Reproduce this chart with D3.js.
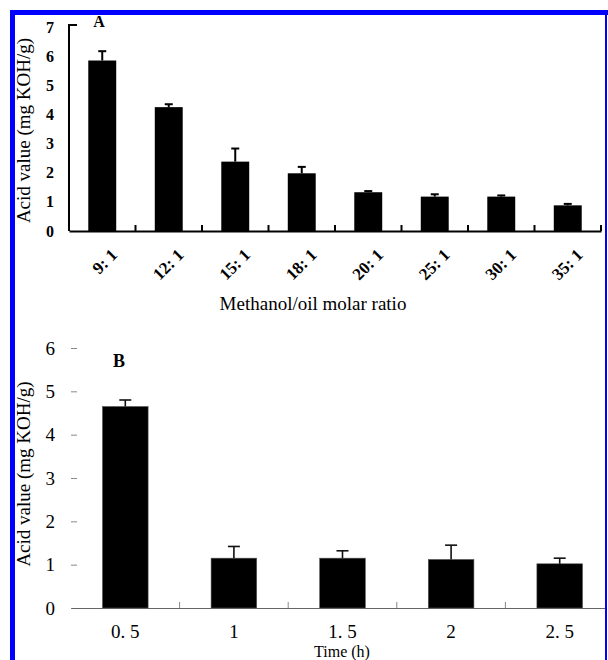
<!DOCTYPE html>
<html lang="en">
<head>
<meta charset="UTF-8">
<title>Acid value charts</title>
<style>
  body { margin: 0; background: #fff; }
  svg { display: block; }
  text { font-family: "Liberation Serif", "DejaVu Serif", serif; }
</style>
</head>
<body>
<svg id="chart" width="608" height="660"></svg>
<script src="https://d3js.org/d3.v7.min.js"></script>
<script>
// panel A : methanol/oil molar ratio
const ratioLabels = ["9: 1", "12: 1", "15: 1", "18: 1", "20: 1", "25: 1", "30: 1", "35: 1"];
const acidA = [5.85, 4.25, 2.38, 1.98, 1.33, 1.18, 1.18, 0.88];
const errA = [0.32, 0.1, 0.45, 0.22, 0.04, 0.08, 0.04, 0.05];
const yTicksA = [0, 1, 2, 3, 4, 5, 6, 7];

// panel B : reaction time
const timeLabels = ["0. 5", "1", "1. 5", "2", "2. 5"];
const acidB = [4.65, 1.15, 1.15, 1.12, 1.02];
const errB = [0.15, 0.27, 0.17, 0.33, 0.13];
const yTicksB = [0, 1, 2, 3, 4, 5, 6];

const svg = d3.select("#chart");

svg.append("clipPath").attr("id", "frameClip")
  .append("rect").attr("x", 0).attr("y", 0).attr("width", 605).attr("height", 660);

const g = svg.append("g").attr("clip-path", "url(#frameClip)");

// ---------- panel A ----------
const xA = d3.scaleBand().domain(ratioLabels).range([69, 601])
  .paddingInner(0.58).paddingOuter(0.29);
const yA = d3.scaleLinear().domain([0, 7]).range([231, 27]);

const gA = g.append("g");

// y axis, cap at the top pointing right
const axA = gA.append("g").attr("transform", "translate(69,0)")
  .call(d3.axisLeft(yA).tickValues(yTicksA).tickFormat(d3.format("d"))
    .tickSizeInner(0).tickPadding(15));
axA.select(".domain").attr("stroke", "#000").attr("stroke-width", 2)
  .attr("d", `M8,${yA(7) - 2}H0V${yA(0)}`);
axA.selectAll("text").attr("font-size", 16).attr("font-weight", "bold").attr("fill", "#000");

// x axis with boundary ticks
const axXA = gA.append("g").attr("transform", `translate(0,${yA(0)})`)
  .call(d3.axisBottom(xA).tickSize(0).tickPadding(0));
axXA.select(".domain").attr("stroke", "#000").attr("stroke-width", 2);
axXA.selectAll(".tick text")
  .attr("font-size", 17).attr("font-weight", "bold").attr("fill", "#000")
  .attr("text-anchor", "end")
  .attr("transform", "translate(16,25) rotate(-45)")
  .attr("dy", 0).attr("y", 0);
const boundsA = d3.range(ratioLabels.length + 1).map(i => xA.range()[0] + i * xA.step());
gA.selectAll(".bndA").data(boundsA).enter().append("line")
  .attr("x1", d => d).attr("x2", d => d)
  .attr("y1", yA(0)).attr("y2", yA(0) - 6)
  .attr("stroke", "#000").attr("stroke-width", 2);

gA.selectAll(".barA").data(acidA).enter().append("rect")
  .attr("x", (d, i) => xA(ratioLabels[i]))
  .attr("width", xA.bandwidth())
  .attr("y", d => yA(d))
  .attr("height", d => yA(0) - yA(d))
  .attr("fill", "#000");

const errGA = gA.selectAll(".errA").data(acidA).enter().append("g")
  .attr("transform", (d, i) => `translate(${xA(ratioLabels[i]) + xA.bandwidth() / 2},0)`);
errGA.append("line")
  .attr("y1", d => yA(d)).attr("y2", (d, i) => yA(d + errA[i]))
  .attr("stroke", "#000").attr("stroke-width", 2);
errGA.append("line")
  .attr("x1", -4).attr("x2", 4)
  .attr("y1", (d, i) => yA(d + errA[i])).attr("y2", (d, i) => yA(d + errA[i]))
  .attr("stroke", "#000").attr("stroke-width", 2);

gA.append("text").attr("x", 99).attr("y", 27).attr("text-anchor", "middle")
  .attr("font-size", 16).attr("font-weight", "bold").text("A");

gA.append("text")
  .attr("transform", `translate(30,${(yA(0) + 30) / 2}) rotate(-90)`)
  .attr("text-anchor", "middle").attr("font-size", 19)
  .text("Acid value (mg KOH/g)");

gA.append("text").attr("x", 313).attr("y", 310).attr("text-anchor", "middle")
  .attr("font-size", 19).text("Methanol/oil molar ratio");

// ---------- panel B ----------
const xB = d3.scaleBand().domain(timeLabels).range([71, 614])
  .paddingInner(0.58).paddingOuter(0.29);
const yB = d3.scaleLinear().domain([0, 6]).range([608, 348]);

const gB = g.append("g");

const axB = gB.append("g").attr("transform", "translate(71,0)")
  .call(d3.axisLeft(yB).tickValues(yTicksB).tickFormat(d3.format("d"))
    .tickSizeInner(-6).tickSizeOuter(0).tickPadding(16));
axB.select(".domain").remove();
axB.selectAll("line").attr("stroke", "#888");
axB.selectAll("text").attr("font-size", 19).attr("fill", "#000");

const axXB = gB.append("g").attr("transform", `translate(0,${yB(0)})`)
  .call(d3.axisBottom(xB).tickSize(0).tickPadding(17));
axXB.select(".domain").attr("stroke", "#666").attr("stroke-width", 1.2);
axXB.selectAll("text").attr("font-size", 19).attr("fill", "#000");
const boundsB = d3.range(1, timeLabels.length).map(i => xB.range()[0] + i * xB.step());
gB.selectAll(".bndB").data(boundsB).enter().append("line")
  .attr("x1", d => d).attr("x2", d => d)
  .attr("y1", yB(0)).attr("y2", yB(0) - 6)
  .attr("stroke", "#888");

gB.selectAll(".barB").data(acidB).enter().append("rect")
  .attr("x", (d, i) => xB(timeLabels[i]))
  .attr("width", xB.bandwidth())
  .attr("y", d => yB(d))
  .attr("height", d => yB(0) - yB(d))
  .attr("fill", "#000").attr("stroke", "#555").attr("stroke-width", 0.6);

const errGB = gB.selectAll(".errB").data(acidB).enter().append("g")
  .attr("transform", (d, i) => `translate(${xB(timeLabels[i]) + xB.bandwidth() / 2},0)`);
errGB.append("line")
  .attr("y1", d => yB(d)).attr("y2", (d, i) => yB(d + errB[i]))
  .attr("stroke", "#111").attr("stroke-width", 1.6);
errGB.append("line")
  .attr("x1", -6).attr("x2", 6)
  .attr("y1", (d, i) => yB(d + errB[i])).attr("y2", (d, i) => yB(d + errB[i]))
  .attr("stroke", "#111").attr("stroke-width", 1.6);

gB.append("text").attr("x", 119).attr("y", 367).attr("text-anchor", "middle")
  .attr("font-size", 18).attr("font-weight", "bold").text("B");

gB.append("text")
  .attr("transform", `translate(30,474) rotate(-90)`)
  .attr("text-anchor", "middle").attr("font-size", 19)
  .text("Acid value (mg KOH/g)");

gB.append("text").attr("x", 342).attr("y", 657).attr("text-anchor", "middle")
  .attr("font-size", 16).text("Time (h)");

// ---------- blue frame ----------
svg.append("rect").attr("x", 10).attr("y", 10).attr("width", 5).attr("height", 650).attr("fill", "#0000ff");
svg.append("rect").attr("x", 10).attr("y", 10).attr("width", 598).attr("height", 5).attr("fill", "#0000ff");
svg.append("rect").attr("x", 605).attr("y", 10).attr("width", 2).attr("height", 650).attr("fill", "#0000ff");
</script>
</body>
</html>
